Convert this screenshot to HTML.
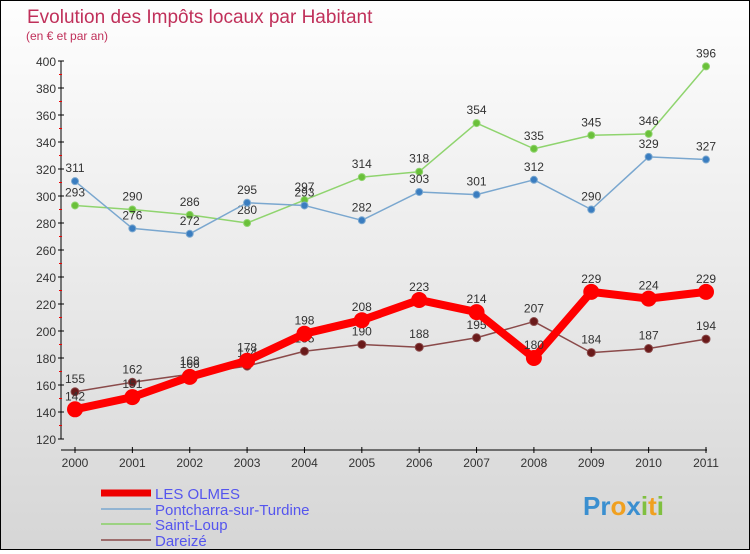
<!DOCTYPE html>
<html><head><meta charset="utf-8"><style>
body{margin:0}
#c{width:748px;height:548px;border:1px solid #000;background:linear-gradient(#fefefe,#d6d6d6);position:relative;font-family:"Liberation Sans",sans-serif}
</style></head><body>
<div id="c">
<svg id="s" width="748" height="548" xmlns="http://www.w3.org/2000/svg">
<text x="26" y="22" font-size="19" fill="#c0305a">Evolution des Impôts locaux par Habitant</text>
<text x="25" y="39" font-size="12" fill="#c0305a">(en € et par an)</text>
<g id="axes"></g><g id="series"></g>
<g>
<line x1="100" y1="492" x2="150" y2="492" stroke="#e00" stroke-width="7"/>
<text x="154" y="498" font-size="15" fill="#5555ee">LES OLMES</text>
<line x1="100" y1="508" x2="150" y2="508" stroke="#7aa7cf" stroke-width="1.5"/>
<text x="154" y="514" font-size="15" fill="#5555ee">Pontcharra-sur-Turdine</text>
<line x1="100" y1="523" x2="150" y2="523" stroke="#88d066" stroke-width="1.5"/>
<text x="154" y="529" font-size="15" fill="#5555ee">Saint-Loup</text>
<line x1="100" y1="539" x2="150" y2="539" stroke="#8a4a4a" stroke-width="1.5"/>
<text x="154" y="545" font-size="15" fill="#5555ee">Dareizé</text>
</g>
<g font-size="26" font-weight="bold">
<text x="582" y="514"><tspan fill="#3a8fd0">Pr</tspan><tspan fill="#f0a020">o</tspan><tspan fill="#3a8fd0">x</tspan><tspan fill="#80c040">i</tspan><tspan fill="#f0a020">t</tspan><tspan fill="#80c040">i</tspan></text>
</g>
</svg></div>
<script>
const years=[2000,2001,2002,2003,2004,2005,2006,2007,2008,2009,2010,2011];
const yTicks=[120,140,160,180,200,220,240,260,280,300,320,340,360,380,400];
const olmes=[142,151,166,178,198,208,223,214,180,229,224,229];
const pont=[311,276,272,295,293,282,303,301,312,290,329,327];
const loup=[293,290,286,280,297,314,318,354,335,345,346,396];
const dareize=[155,162,168,174,185,190,188,195,207,184,187,194];
const NS="http://www.w3.org/2000/svg";
const X=i=>74+i*(631/11);
const Y=v=>438-(v-120)*(378/280);
function el(t,a,p){const e=document.createElementNS(NS,t);for(const k in a)e.setAttribute(k,a[k]);p.appendChild(e);return e;}
const ax=document.getElementById('axes');
el('line',{x1:60,y1:Y(400),x2:60,y2:Y(120),stroke:'#000'},ax);
el('line',{x1:60,y1:449,x2:706,y2:449,stroke:'#000'},ax);
yTicks.forEach(v=>{
 el('line',{x1:57,y1:Y(v),x2:63,y2:Y(v),stroke:'#000'},ax);
 if(v<400)el('line',{x1:58,y1:Y(v+10),x2:61,y2:Y(v+10),stroke:'#e00'},ax);
 const t=el('text',{x:55,y:Y(v)+5,'font-size':12,fill:'#333','text-anchor':'end'},ax);t.textContent=v;
 
 
});
years.forEach((y,i)=>{
 el('line',{x1:X(i),y1:446,x2:X(i),y2:452,stroke:'#000'},ax);
 const t=el('text',{x:X(i),y:466,'font-size':12,fill:'#333','text-anchor':'middle'},ax);t.textContent=y;
 
 
});
const sg=document.getElementById('series');
function series(name,data,col,w,r,dot){
 const g=el('g',{},sg);
 
 
 el('polyline',{points:data.map((v,i)=>X(i)+','+Y(v)).join(' '),fill:'none',stroke:col,'stroke-width':w,'stroke-linejoin':'round'},g);
 data.forEach((v,i)=>{
  const c=el('circle',{cx:X(i),cy:Y(v),r:r,fill:dot,stroke:col,'stroke-width':1},g);
  
  
  const t=el('text',{x:X(i),y:Y(v)-9,'font-size':12,fill:'#333','text-anchor':'middle'},g);t.textContent=v;
  
  
 });
}
series('series-saint-loup',loup,'#8fd46e',1.5,3.5,'#6ac03a');
series('series-pontcharra',pont,'#7aa7cf',1.5,3.5,'#3a7dc0');
series('series-dareize',dareize,'#8a4a4a',1.5,4,'#6a1a1a');
series('series-les-olmes',olmes,'#f00',8,7.5,'#f00');
</script>
</body></html>
